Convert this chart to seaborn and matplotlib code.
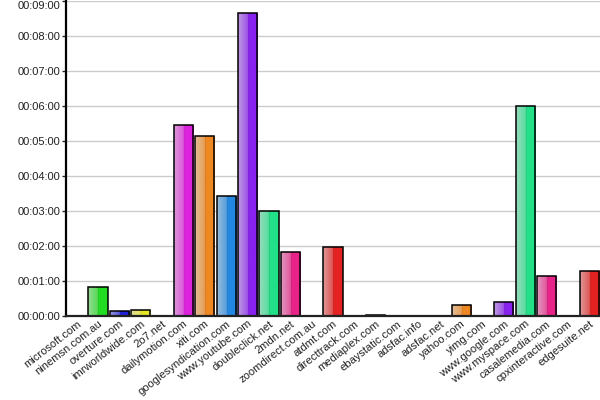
import matplotlib
matplotlib.use("Agg")
import matplotlib.pyplot as plt
import matplotlib.colors as mcolors
import numpy as np
import pandas as pd
import seaborn as sns

# Data: average time per site, in seconds
sites = [
    "microsoft.com", "ninemsn.com.au", "overture.com", "imrworldwide.com",
    "2o7.net", "dailymotion.com", "xiti.com", "googlesyndication.com",
    "www.youtube.com", "doubleclick.net", "2mdn.net", "zoomdirect.com.au",
    "atdmt.com", "directtrack.com", "mediaplex.com", "ebaystatic.com",
    "adsfac.info", "adsfac.net", "yahoo.com", "yimg.com", "www.google.com",
    "www.myspace.com", "casalemedia.com", "cpxinteractive.com", "edgesuite.net",
]
seconds = [
    0, 50, 8, 10,
    0, 327, 308, 206,
    519, 180, 110, 0,
    118, 0, 2, 0,
    0, 0, 19, 0, 24,
    360, 69, 0, 77,
]
y_ticks = [0, 60, 120, 180, 240, 300, 360, 420, 480, 540]
y_labels = ["00:00:00", "00:01:00", "00:02:00", "00:03:00", "00:04:00",
            "00:05:00", "00:06:00", "00:07:00", "00:08:00", "00:09:00"]
base_colors = [
    "#e42222", "#22dd22", "#2222dd", "#e8e822", "#22dddd", "#dd22dd",
    "#ee8822", "#2288e0", "#8822ee", "#22e088", "#e82288", "#888888",
]
palette = [base_colors[i % len(base_colors)] for i in range(len(sites))]

df = pd.DataFrame({"site": sites, "seconds": seconds})

sns.set_style("white")
plt.rcParams["font.family"] = ["Liberation Sans", "DejaVu Sans"]

fig = plt.figure(figsize=(6, 4), dpi=100)
ax = fig.add_axes([0.11, 0.21, 0.89, 0.7875])

sns.barplot(
    data=df, x="site", y="seconds", hue="site", palette=palette,
    legend=False, width=0.9, edgecolor="black", linewidth=1.1, ax=ax,
)

# Gradient fill: pale left half, solid right half
n = 64
t = np.linspace(0, 1, n)
for patch, col in zip(ax.patches, palette):
    h = patch.get_height()
    if h <= 0:
        continue
    rgb = np.array(mcolors.to_rgb(col))
    pale = np.array([0.85, 0.85, 0.85])
    img = np.zeros((1, n, 3))
    for i, ti in enumerate(t):
        if ti < 0.5:
            a = 0.35 + 0.75 * ti
            img[0, i] = pale * (1 - a) + rgb * a
        elif ti < 0.53:
            img[0, i] = rgb * 0.85
        else:
            img[0, i] = rgb
    x0 = patch.get_x()
    w = patch.get_width()
    im = ax.imshow(img, extent=[x0, x0 + w, 0, h], aspect="auto",
                   interpolation="bilinear", zorder=1.5)
    im.set_clip_path(patch)
    patch.set_facecolor("none")
    patch.set_zorder(2)

ax.set_xlim(-0.5, len(sites) - 0.5)
ax.set_ylim(0, 540)
ax.set_aspect("auto")

ax.set_yticks(y_ticks)
ax.set_yticklabels(y_labels)
ax.get_yticklabels()[-1].set_va("top")
ax.grid(axis="y", color="#cccccc", linewidth=1)
ax.set_axisbelow(True)

ax.set_xlabel("")
ax.set_ylabel("")
ax.tick_params(axis="y", labelsize=8, labelcolor="#222222", length=3,
               width=1, left=True, pad=1)
ax.tick_params(axis="x", labelsize=8, labelcolor="#222222", length=0, pad=2)
plt.setp(ax.get_xticklabels(), rotation=38, ha="right",
         rotation_mode="anchor")

for s in ["top", "right"]:
    ax.spines[s].set_visible(False)
ax.spines["left"].set_linewidth(1.6)
ax.spines["bottom"].set_linewidth(1.6)
ax.spines["left"].set_color("black")
ax.spines["bottom"].set_color("#222222")

fig.savefig("out.png", dpi=100)
